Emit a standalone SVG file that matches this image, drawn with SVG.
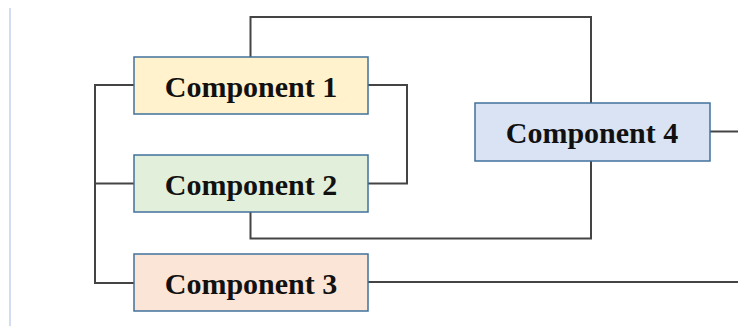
<svg xmlns="http://www.w3.org/2000/svg" width="738" height="329" viewBox="0 0 738 329">
<style>
.box{stroke:#41719c;stroke-width:1.5}
.lbl{font-family:"Liberation Serif","Times New Roman",serif;font-weight:bold;font-size:30px;fill:#111;text-anchor:middle}
.con{fill:none;stroke:#444;stroke-width:2}
</style>
<rect width="738" height="329" fill="#fff"/>
<line x1="10" y1="8" x2="10" y2="326" stroke="#b4c7e7" stroke-width="1.2"/>
<g id="connectors">
<polyline class="con" points="134,85 95,85 95,283 134,283"/>
<line class="con" x1="95" y1="183.5" x2="134" y2="183.5" stroke-width="2.5"/>
<polyline class="con" points="250.5,57 250.5,17 591,17 591,103"/>
<polyline class="con" points="368,85 407,85 407,183.5 368,183.5"/>
<polyline class="con" points="250.5,212 250.5,238.5 591,238.5 591,161"/>
<line class="con" x1="710" y1="131.5" x2="738" y2="131.5"/>
<line class="con" x1="368" y1="282" x2="738" y2="282"/>
</g>
<g id="c1"><rect class="box" x="134" y="57" width="234" height="57" fill="#fff2cc"/><text class="lbl" x="251" y="96.5">Component 1</text></g>
<g id="c2"><rect class="box" x="134" y="155" width="234" height="57" fill="#e2efda"/><text class="lbl" x="251" y="194.5">Component 2</text></g>
<g id="c3"><rect class="box" x="134" y="254" width="234" height="57" fill="#fbe5d6"/><text class="lbl" x="251" y="293.5">Component 3</text></g>
<g id="c4"><rect class="box" x="475" y="103" width="235" height="58" fill="#dae3f3"/><text class="lbl" x="592" y="143">Component 4</text></g>
</svg>
